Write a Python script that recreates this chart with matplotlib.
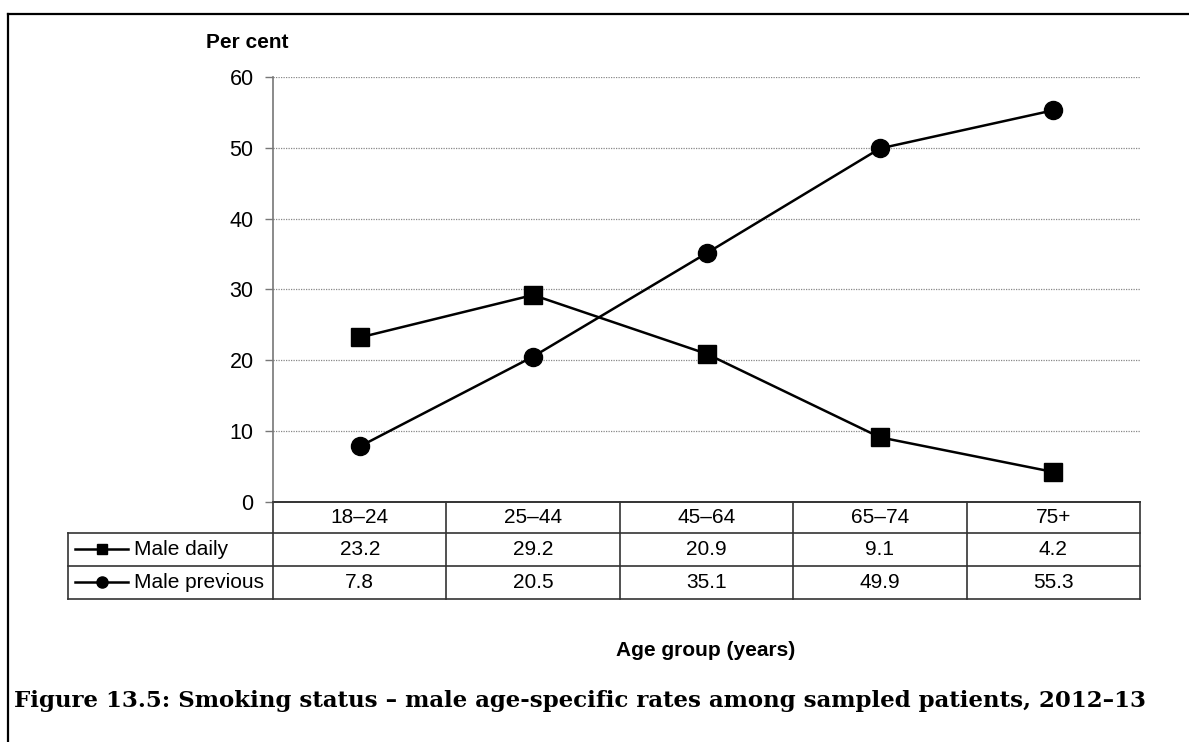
import matplotlib
matplotlib.use("Agg")
import matplotlib.pyplot as plt
from matplotlib.lines import Line2D
from matplotlib.transforms import blended_transform_factory

plt.rcParams['font.family'] = ['Liberation Sans', 'DejaVu Sans']

# data
age_groups = ["18–24", "25–44", "45–64", "65–74", "75+"]
male_daily = [23.2, 29.2, 20.9, 9.1, 4.2]
male_previous = [7.8, 20.5, 35.1, 49.9, 55.3]
series_names = ["Male daily", "Male previous"]
series_markers = ["s", "o"]
yticks = [0, 10, 20, 30, 40, 50, 60]

W, H = 1189, 742
fig = plt.figure(figsize=(W / 100, H / 100), dpi=100)

# axes in pixel terms
ax_l, ax_r, ax_t, ax_b = 273, 1140, 77, 501.7
ax = fig.add_axes([ax_l / W, 1 - ax_b / H, (ax_r - ax_l) / W, (ax_b - ax_t) / H])

x = list(range(len(age_groups)))
ax.plot(x, male_daily, color="black", lw=1.8, marker="s", ms=12.5, zorder=3, clip_on=False)
ax.plot(x, male_previous, color="black", lw=1.8, marker="o", ms=13, zorder=3, clip_on=False)

ax.set_xlim(-0.5, len(age_groups) - 0.5)
ax.set_ylim(0, 60)
ax.set_yticks(yticks)
ax.set_yticklabels([str(v) for v in yticks], fontsize=15.5)
ax.set_xticks([])
ax.tick_params(axis="y", length=6, width=1, color="#777777", pad=8)
for yv in yticks[1:]:
    ax.axhline(yv, color="#888888", lw=0.9, ls=(0, (1, 1)), zorder=1)
for s in ["top", "right"]:
    ax.spines[s].set_visible(False)
ax.spines["left"].set_color("#777777")
ax.spines["left"].set_linewidth(1.2)
ax.spines["bottom"].set_color("#333333")
ax.spines["bottom"].set_linewidth(1.2)

# data table below the axes (x in data units, y in pixels -> axes fraction)
def ypx(p):
    return (ax_b - p) / (ax_b - ax_t)

trans = blended_transform_factory(ax.transData, ax.transAxes)
row_edges = [501.7, 532.7, 565.5, 598.5]
tbl_left = -0.5 - (ax_l - 68) / ((ax_r - ax_l) / len(age_groups))
tc = "#333333"

# horizontal lines
ax.add_line(Line2D([-0.5, 4.5], [ypx(row_edges[0])] * 2, transform=trans, color=tc, lw=1.2, clip_on=False))
for p in row_edges[1:]:
    ax.add_line(Line2D([tbl_left, 4.5], [ypx(p)] * 2, transform=trans, color=tc, lw=1.2, clip_on=False))
# vertical lines
for i in range(len(age_groups) + 1):
    ax.add_line(Line2D([i - 0.5] * 2, [ypx(row_edges[0]), ypx(row_edges[-1])], transform=trans,
                       color=tc, lw=1.2, clip_on=False))
ax.add_line(Line2D([tbl_left] * 2, [ypx(row_edges[1]), ypx(row_edges[-1])], transform=trans,
                   color=tc, lw=1.2, clip_on=False))

def cell_y(r):
    return ypx((row_edges[r] + row_edges[r + 1]) / 2)

for i, g in enumerate(age_groups):
    ax.text(i, cell_y(0), g, transform=trans, ha="center", va="center", fontsize=15)
for r, vals in enumerate([male_daily, male_previous]):
    for i, v in enumerate(vals):
        ax.text(i, cell_y(r + 1), f"{v:.1f}", transform=trans, ha="center", va="center", fontsize=15)

# legend keys in row labels (figure pixel coords)
for r, (name, mk) in enumerate(zip(series_names, series_markers)):
    yc = 1 - (row_edges[r + 1] + row_edges[r + 2]) / 2 / H
    fig.add_artist(Line2D([75 / W, 128 / W], [yc, yc], color="black", lw=1.8))
    fig.add_artist(Line2D([102 / W], [yc], color="black", marker=mk, ms=7.5 if mk == "s" else 8))
    fig.text(134 / W, yc, name, ha="left", va="center", fontsize=15)

# titles
fig.text(247 / W, 1 - 42 / H, "Per cent", ha="center", va="center", fontsize=15, fontweight="bold")
fig.text(706 / W, 1 - 651 / H, "Age group (years)", ha="center", va="center", fontsize=15, fontweight="bold")
fig.text(14 / W, 1 - 701 / H, "Figure 13.5: Smoking status – male age-specific rates among sampled patients, 2012–13",
         ha="left", va="center", fontsize=16.5, fontweight="bold", family=["DejaVu Serif"])

# outer frame (left and top)
fig.add_artist(Line2D([8 / W, 8 / W], [0, 1 - 14 / H], color="black", lw=1.6))
fig.add_artist(Line2D([8 / W, 1], [1 - 14 / H, 1 - 14 / H], color="black", lw=1.6))

fig.savefig("out.png", dpi=100)
